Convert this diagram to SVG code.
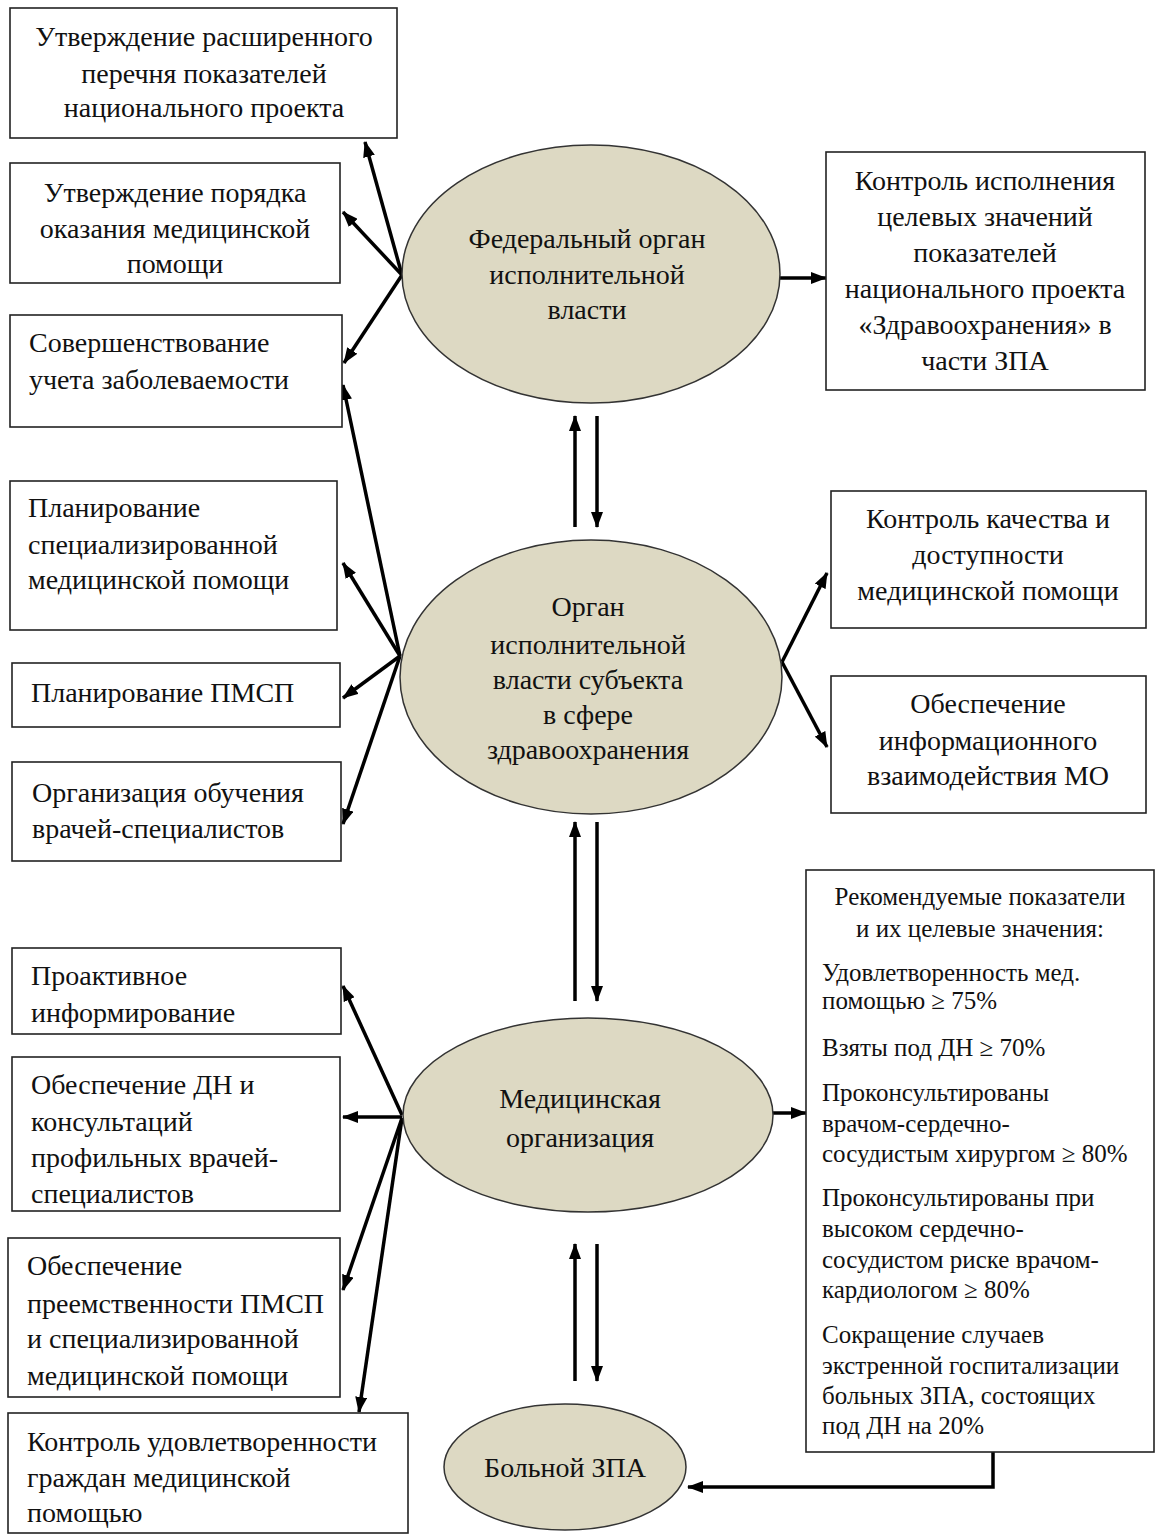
<svg xmlns="http://www.w3.org/2000/svg" width="1155" height="1535" viewBox="0 0 1155 1535">
<style>
.box{fill:#fff;stroke:#222;stroke-width:1.6}
.ell{fill:#ddd9c3;stroke:#333;stroke-width:1.5}
.t{font-family:"Liberation Serif","Times New Roman",serif;font-size:28px;fill:#111}
.c{text-anchor:middle}
.s{font-family:"Liberation Serif","Times New Roman",serif;font-size:25px;fill:#111}
.ln{stroke:#000;stroke-width:3.5;fill:none;marker-end:url(#ah)}
</style>
<defs>
<marker id="ah" markerUnits="userSpaceOnUse" markerWidth="16" markerHeight="12" refX="15" refY="6" orient="auto">
<path d="M0,0 L16,6 L0,12 z" fill="#000"/>
</marker>
</defs>
<rect width="1155" height="1535" fill="#fff"/>

<g id="connectors">
<line class="ln" x1="402" y1="275" x2="365" y2="142"/>
<line class="ln" x1="402" y1="275" x2="343" y2="212"/>
<line class="ln" x1="402" y1="275" x2="344" y2="363"/>
<line class="ln" x1="780" y1="278" x2="826" y2="278"/>
<line class="ln" x1="575" y1="527" x2="575" y2="416"/>
<line class="ln" x1="597" y1="416" x2="597" y2="527"/>
<line class="ln" x1="400" y1="656" x2="343" y2="385"/>
<line class="ln" x1="400" y1="656" x2="343" y2="563"/>
<line class="ln" x1="400" y1="656" x2="343" y2="698"/>
<line class="ln" x1="400" y1="656" x2="343" y2="824"/>
<line class="ln" x1="782" y1="662" x2="827" y2="573"/>
<line class="ln" x1="782" y1="662" x2="827" y2="747"/>
<line class="ln" x1="575" y1="1001" x2="575" y2="822"/>
<line class="ln" x1="597" y1="822" x2="597" y2="1001"/>
<line class="ln" x1="402" y1="1115" x2="343" y2="986"/>
<line class="ln" x1="402" y1="1117" x2="343" y2="1117"/>
<line class="ln" x1="402" y1="1118" x2="343" y2="1290"/>
<line class="ln" x1="402" y1="1118" x2="359" y2="1412"/>
<line class="ln" x1="773" y1="1113" x2="806" y2="1113"/>
<line class="ln" x1="575" y1="1381" x2="575" y2="1244"/>
<line class="ln" x1="597" y1="1244" x2="597" y2="1381"/>
<polyline class="ln" points="993,1452 993,1487 688,1487"/>
</g>

<g id="federal">
<ellipse class="ell" cx="591" cy="274" rx="189" ry="129"/>
<text class="t c" x="587" y="248">Федеральный орган</text>
<text class="t c" x="587" y="284">исполнительной</text>
<text class="t c" x="587" y="319">власти</text>
</g>

<g id="subject">
<ellipse class="ell" cx="591" cy="677" rx="191" ry="137"/>
<text class="t c" x="588" y="616">Орган</text>
<text class="t c" x="588" y="654">исполнительной</text>
<text class="t c" x="588" y="689">власти субъекта</text>
<text class="t c" x="588" y="724">в сфере</text>
<text class="t c" x="588" y="759">здравоохранения</text>
</g>

<g id="medorg">
<ellipse class="ell" cx="588" cy="1115" rx="185" ry="97"/>
<text class="t c" x="580" y="1108">Медицинская</text>
<text class="t c" x="580" y="1147">организация</text>
</g>

<g id="patient">
<ellipse class="ell" cx="565" cy="1467" rx="121" ry="63"/>
<text class="t c" x="565" y="1477">Больной ЗПА</text>
</g>

<g id="b1">
<rect class="box" x="10" y="8" width="387" height="130"/>
<text class="t c" x="204" y="46">Утверждение расширенного</text>
<text class="t c" x="204" y="83">перечня показателей</text>
<text class="t c" x="204" y="117">национального проекта</text>
</g>
<g id="b2">
<rect class="box" x="10" y="163" width="330" height="120"/>
<text class="t c" x="175" y="202">Утверждение порядка</text>
<text class="t c" x="175" y="238">оказания медицинской</text>
<text class="t c" x="175" y="273">помощи</text>
</g>
<g id="b3">
<rect class="box" x="10" y="315" width="332" height="112"/>
<text class="t" x="29" y="352">Совершенствование</text>
<text class="t" x="29" y="389">учета заболеваемости</text>
</g>
<g id="b4">
<rect class="box" x="10" y="481" width="327" height="149"/>
<text class="t" x="28" y="517">Планирование</text>
<text class="t" x="28" y="554">специализированной</text>
<text class="t" x="28" y="589">медицинской помощи</text>
</g>
<g id="b5">
<rect class="box" x="12" y="663" width="328" height="64"/>
<text class="t" x="31" y="702">Планирование ПМСП</text>
</g>
<g id="b6">
<rect class="box" x="12" y="762" width="329" height="99"/>
<text class="t" x="32" y="802">Организация обучения</text>
<text class="t" x="32" y="838">врачей-специалистов</text>
</g>
<g id="b7">
<rect class="box" x="12" y="948" width="329" height="86"/>
<text class="t" x="31" y="985">Проактивное</text>
<text class="t" x="31" y="1022">информирование</text>
</g>
<g id="b8">
<rect class="box" x="12" y="1057" width="328" height="154"/>
<text class="t" x="31" y="1094">Обеспечение ДН и</text>
<text class="t" x="31" y="1131">консультаций</text>
<text class="t" x="31" y="1167">профильных врачей-</text>
<text class="t" x="31" y="1203">специалистов</text>
</g>
<g id="b9">
<rect class="box" x="8" y="1238" width="332" height="159"/>
<text class="t" x="27" y="1275">Обеспечение</text>
<text class="t" x="27" y="1313">преемственности ПМСП</text>
<text class="t" x="27" y="1348">и специализированной</text>
<text class="t" x="27" y="1385">медицинской помощи</text>
</g>
<g id="b10">
<rect class="box" x="8" y="1413" width="400" height="120"/>
<text class="t" x="27" y="1451">Контроль удовлетворенности</text>
<text class="t" x="27" y="1487">граждан медицинской</text>
<text class="t" x="27" y="1522">помощью</text>
</g>

<g id="r1">
<rect class="box" x="826" y="152" width="319" height="238"/>
<text class="t c" x="985" y="190">Контроль исполнения</text>
<text class="t c" x="985" y="226">целевых значений</text>
<text class="t c" x="985" y="262">показателей</text>
<text class="t c" x="985" y="298">национального проекта</text>
<text class="t c" x="985" y="334">«Здравоохранения» в</text>
<text class="t c" x="985" y="370">части ЗПА</text>
</g>
<g id="r2">
<rect class="box" x="831" y="491" width="315" height="137"/>
<text class="t c" x="988" y="528">Контроль качества и</text>
<text class="t c" x="988" y="564">доступности</text>
<text class="t c" x="988" y="600">медицинской помощи</text>
</g>
<g id="r3">
<rect class="box" x="831" y="676" width="315" height="137"/>
<text class="t c" x="988" y="713">Обеспечение</text>
<text class="t c" x="988" y="750">информационного</text>
<text class="t c" x="988" y="785">взаимодействия МО</text>
</g>
<g id="r4">
<rect class="box" x="806" y="870" width="348" height="582"/>
<text class="s c" x="980" y="905">Рекомендуемые показатели</text>
<text class="s c" x="980" y="937">и их целевые значения:</text>
<text class="s" x="822" y="981">Удовлетворенность мед.</text>
<text class="s" x="822" y="1009">помощью ≥ 75%</text>
<text class="s" x="822" y="1056">Взяты под ДН ≥ 70%</text>
<text class="s" x="822" y="1101">Проконсультированы</text>
<text class="s" x="822" y="1132">врачом-сердечно-</text>
<text class="s" x="822" y="1162">сосудистым хирургом ≥ 80%</text>
<text class="s" x="822" y="1206">Проконсультированы при</text>
<text class="s" x="822" y="1237">высоком сердечно-</text>
<text class="s" x="822" y="1268">сосудистом риске врачом-</text>
<text class="s" x="822" y="1298">кардиологом ≥ 80%</text>
<text class="s" x="822" y="1343">Сокращение случаев</text>
<text class="s" x="822" y="1374">экстренной госпитализации</text>
<text class="s" x="822" y="1404">больных ЗПА, состоящих</text>
<text class="s" x="822" y="1434">под ДН на 20%</text>
</g>
</svg>
